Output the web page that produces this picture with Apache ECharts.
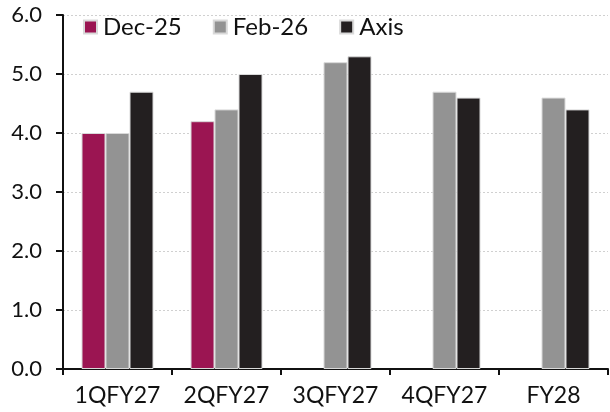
<!DOCTYPE html>
<html lang="en">
<head>
    <meta charset="UTF-8">
    <title>Chart</title>
    <style>
        body { margin: 0; }
        #chart { width: 610px; height: 412px; }
    </style>
</head>
<body>
    <div id="chart"></div>
    <script src="https://cdn.jsdelivr.net/npm/echarts@6/dist/echarts.min.js"></script>
    <script>
        const categories = ['1QFY27', '2QFY27', '3QFY27', '4QFY27', 'FY28'];
        const dec25 = [4.0, 4.2, null, null, null];
        const feb26 = [4.0, 4.4, 5.2, 4.7, 4.6];
        const axis = [4.7, 5.0, 5.3, 4.6, 4.4];

        const font = 'Lato';
        const barStyle = color => ({ color: color, borderColor: '#d9d9d9', borderWidth: 1 });

        const chart = echarts.init(document.getElementById('chart'));
        chart.setOption({
            animation: false,
            textStyle: { fontFamily: font },
            grid: { left: 63, right: 2, top: 15, bottom: 43 },
            legend: {
                left: 78,
                top: 10,
                itemWidth: 13,
                itemHeight: 13,
                itemGap: 31,
                icon: 'rect',
                textStyle: { fontFamily: font, fontSize: 24, color: '#111', padding: [0, 0, 0, 1] },
                data: ['Dec-25', 'Feb-26', 'Axis']
            },
            xAxis: {
                type: 'category',
                data: categories,
                axisLine: { lineStyle: { color: '#111', width: 2 } },
                axisTick: { show: true, length: 6, lineStyle: { color: '#111', width: 2 } },
                axisLabel: { interval: 0, hideOverlap: false, fontFamily: font, fontSize: 23, color: '#111', margin: 15 }
            },
            yAxis: {
                type: 'value',
                min: 0,
                max: 6,
                interval: 1,
                axisLine: { show: true, lineStyle: { color: '#111', width: 2 } },
                axisTick: { show: true, length: 7, lineStyle: { color: '#111', width: 2 } },
                axisLabel: { fontFamily: font, fontSize: 22, color: '#111', margin: 21, formatter: v => v.toFixed(1) },
                splitLine: { show: true, lineStyle: { color: '#d0d0d0', type: [2, 2], width: 1 } }
            },
            series: [
                { name: 'Dec-25', type: 'bar', data: dec25, barWidth: 24, barGap: '0%', itemStyle: barStyle('#9b1552') },
                { name: 'Feb-26', type: 'bar', data: feb26, barWidth: 24, barGap: '0%', itemStyle: barStyle('#939393') },
                { name: 'Axis', type: 'bar', data: axis, barWidth: 24, barGap: '0%', itemStyle: barStyle('#231f20') }
            ]
        });
    </script>
</body>
</html>
